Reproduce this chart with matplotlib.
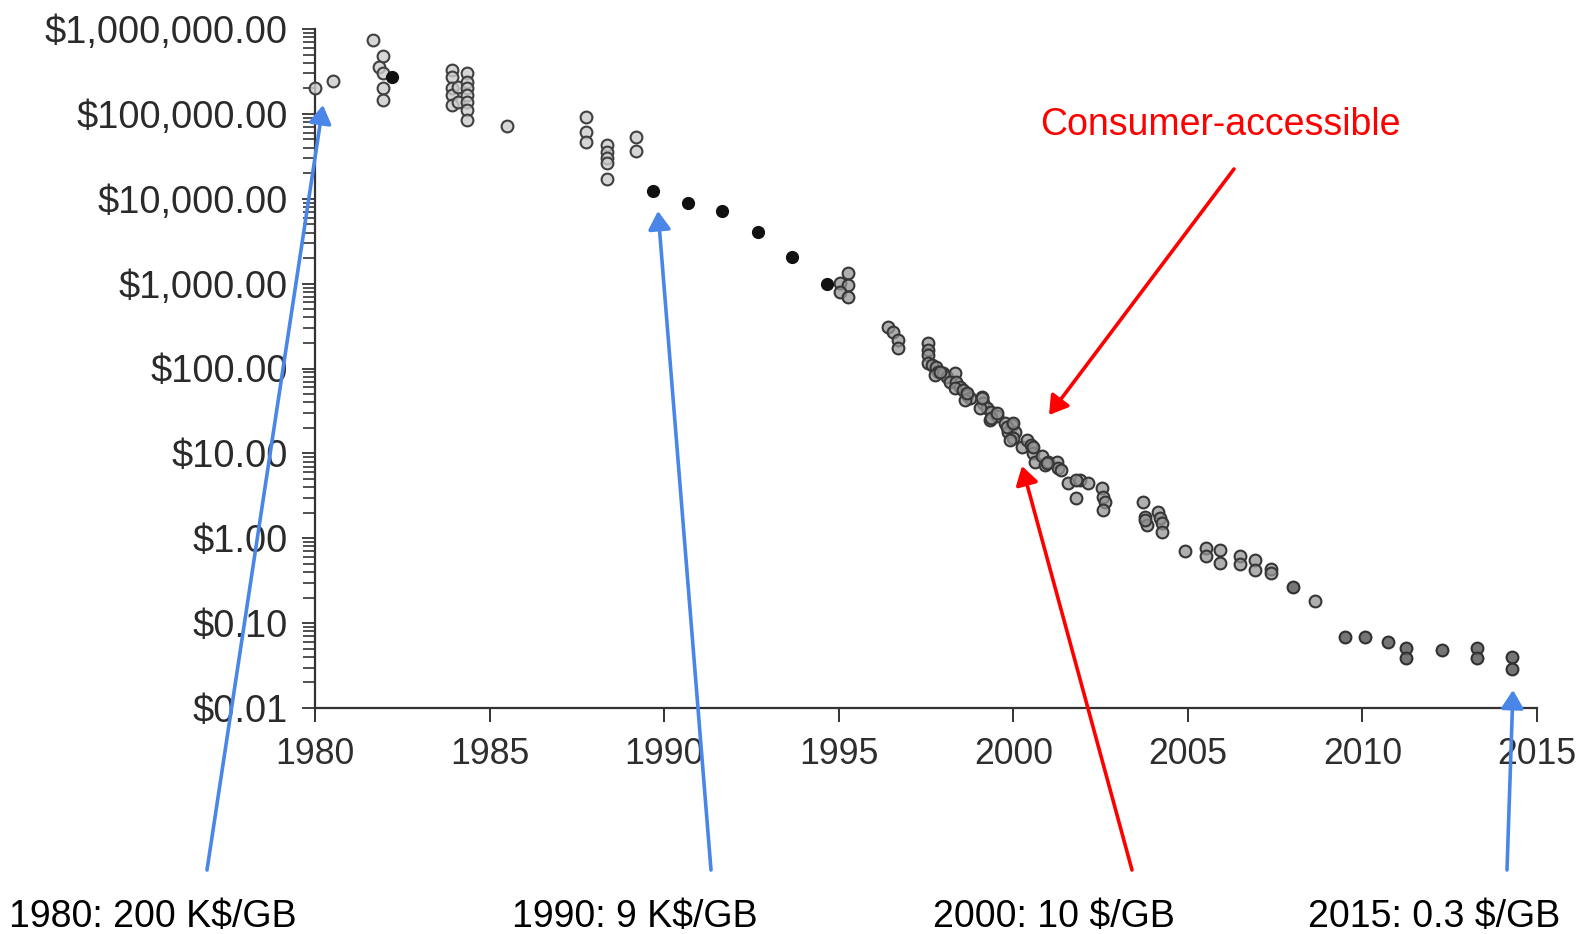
import matplotlib
matplotlib.use("Agg")
import matplotlib.pyplot as plt
from matplotlib.ticker import FixedLocator, LogLocator, NullFormatter

plt.rcParams['font.family'] = ['Liberation Sans', 'DejaVu Sans']

# ---------------- data (year, $/GB) ----------------
early_year = [1980.00, 1980.52, 1981.67, 1981.94, 1981.84, 1981.96, 1981.94, 1981.94,
              1983.91, 1983.91, 1983.91, 1983.91, 1983.91, 1984.10, 1984.10,
              1984.35, 1984.35, 1984.35, 1984.35, 1984.35, 1984.35, 1984.35,
              1985.49,
              1987.76, 1987.76, 1987.76,
              1988.36, 1988.36, 1988.36, 1988.36, 1988.36,
              1989.19, 1989.19]
early_price = [200000, 244000, 741000, 485000, 360000, 300000, 200000, 146000,
               329000, 274000, 200000, 167000, 127000, 209000, 139000,
               300000, 239000, 200000, 167000, 139000, 111000, 85000,
               72000,
               92700, 61700, 46300,
               43000, 35900, 30000, 26600, 17000,
               53800, 36600]

black_year = [1982.20, 1989.69, 1990.67, 1991.66, 1992.68, 1993.67, 1994.66]
black_price = [270000, 12400, 9000, 7240, 4100, 2080, 984]

mid_year = [1995.28, 1995.04, 1995.28, 1995.04, 1995.28,
            1996.41, 1996.56, 1996.70, 1996.70,
            1997.56, 1997.56, 1997.56, 1997.56,
            1997.66, 1997.80, 1997.85, 1997.75, 1997.99, 1998.09, 1998.32, 1998.19,
            1998.37, 1998.47, 1998.32, 1998.56, 1998.66, 1998.76, 1998.61, 1999.10,
            1999.14, 1999.24, 1999.05, 1999.37, 1999.33, 1999.52, 1999.37, 1999.52,
            1999.76, 1999.95, 1999.85, 2000.05, 2000.00, 2000.24, 2000.38, 2000.52,
            2000.57, 2000.62, 2000.81, 2000.91, 2001.00, 2001.24, 2001.29, 2001.38,
            2001.57, 2001.91, 2002.15, 2001.81, 2002.53, 2002.57, 2002.62, 2002.57,
            1997.90, 1998.66, 1999.10, 1999.81, 2000.00, 1999.90, 2000.57, 2000.96, 2001.81,
            2003.72, 2003.77, 2003.82, 2003.77, 2004.15, 2004.20, 2004.25, 2004.25,
            2004.92, 2005.53, 2005.53, 2005.92, 2005.92, 2006.49, 2006.49,
            2006.92, 2006.92, 2007.39, 2007.39, 2008.64]
mid_price = [1330, 1010, 966, 805, 703,
             312, 272, 217, 173,
             199, 166, 145, 115,
             110, 105, 92, 84, 88, 80, 88, 70,
             70, 61, 58.6, 56, 49, 44.7, 42.7, 46.7,
             39, 34, 34, 31, 24.8, 27.2, 26, 29.7,
             22.7, 21.7, 18.1, 18.1, 15.1, 12.0, 14.4, 12.6,
             10.0, 8.0, 9.2, 7.3, 8.0, 8.0, 6.7, 6.4,
             4.46, 4.88, 4.46, 2.96, 3.9, 3.1, 2.7, 2.16,
             92, 51, 44.7, 20.7, 22.7, 14.4, 12.0, 7.7, 4.88,
             2.70, 1.80, 1.44, 1.65, 2.06, 1.73, 1.51, 1.20,
             0.70, 0.76, 0.61, 0.73, 0.51, 0.61, 0.50,
             0.56, 0.42, 0.44, 0.39, 0.18]

dark_year = [2008.00, 2009.49, 2010.07, 2010.74, 2011.24, 2011.24,
             2012.29, 2013.29, 2013.29, 2014.27, 2014.27]
dark_price = [0.27, 0.0695, 0.0695, 0.060, 0.051, 0.039,
              0.0485, 0.051, 0.039, 0.040, 0.0287]

x_ticks = [1980, 1985, 1990, 1995, 2000, 2005, 2010, 2015]
y_ticks = [0.01, 0.1, 1, 10, 100, 1000, 10000, 100000, 1000000]
y_labels = ["$0.01", "$0.10", "$1.00", "$10.00", "$100.00", "$1,000.00",
            "$10,000.00", "$100,000.00", "$1,000,000.00"]

notes = ["1980: 200 K$/GB", "1990: 9 K$/GB", "2000: 10 $/GB", "2015: 0.3 $/GB"]
red_label = "Consumer-accessible"

# ---------------- figure ----------------
W, H = 1583, 934
fig = plt.figure(figsize=(W / 100, H / 100), dpi=100)
ax = fig.add_axes([315 / W, 226 / H, 1222 / W, 679 / H])
ax.set_xlim(1980, 2015)
ax.set_yscale('log')
ax.set_ylim(0.01, 1000000)

for s in ['top', 'right']:
    ax.spines[s].set_visible(False)
for s in ['left', 'bottom']:
    ax.spines[s].set_color('#333333')
    ax.spines[s].set_linewidth(1.6)

ax.xaxis.set_major_locator(FixedLocator(x_ticks))
ax.set_xticklabels([str(t) for t in x_ticks])
ax.yaxis.set_major_locator(FixedLocator(y_ticks))
ax.set_yticklabels(y_labels)
ax.yaxis.set_minor_locator(LogLocator(base=10, subs=range(2, 10), numticks=20))
ax.yaxis.set_minor_formatter(NullFormatter())

ax.tick_params(axis='x', which='major', direction='out', length=10, width=1.4,
               color='#333333', labelsize=25.7, labelcolor='#2e2e2e', pad=11)
ax.tick_params(axis='y', which='major', direction='out', length=9.5, width=1.3,
               color='#333333', labelsize=27.4, labelcolor='#2a2a2a', pad=10)
ax.tick_params(axis='y', which='minor', direction='out', length=8.5, width=1.2,
               color='#333333')

ms = 72
ax.scatter(early_year, early_price, s=ms, facecolors=(0.80, 0.80, 0.80, 0.8),
           edgecolors='#404040', linewidths=1.5, zorder=3, clip_on=False)
ax.scatter(mid_year, mid_price, s=ms, facecolors=(0.58, 0.58, 0.58, 0.75),
           edgecolors='#363636', linewidths=1.5, zorder=3, clip_on=False)
ax.scatter(dark_year, dark_price, s=ms, facecolors=(0.40, 0.40, 0.40, 0.9),
           edgecolors='#303030', linewidths=1.5, zorder=3, clip_on=False)
ax.scatter(black_year, black_price, s=ms, facecolors='#111111',
           edgecolors='#111111', linewidths=1.0, zorder=4, clip_on=False)

# ---------------- annotations (figure pixels, origin bottom-left) ----------------
def fp(x, y):
    return (x, H - y)

blue = '#4a86e8'
red = '#ff0000'
arrows = [
    ((207, 870), (323, 105), blue),
    ((711, 870), (658, 211), blue),
    ((1132, 870), (1022, 466), red),
    ((1234, 169), (1049, 415), red),
    ((1507, 870), (1513, 690), blue),
]
for tail, tip, col in arrows:
    ax.annotate('', xy=fp(*tip), xytext=fp(*tail), xycoords='figure pixels',
                textcoords='figure pixels', annotation_clip=False,
                arrowprops=dict(arrowstyle='-|>,head_length=0.55,head_width=0.34',
                                color=col, lw=2.6, mutation_scale=20,
                                shrinkA=0, shrinkB=0), zorder=6)

fig.text(1040 / W, (H - 135) / H, red_label, color=red, fontsize=27,
         ha='left', va='baseline')

note_x = [9, 512, 933, 1308]
for nx, t in zip(note_x, notes):
    fig.text(nx / W, (H - 927) / H, t, color='black', fontsize=27,
             ha='left', va='baseline')

fig.savefig('out.png', dpi=100)
